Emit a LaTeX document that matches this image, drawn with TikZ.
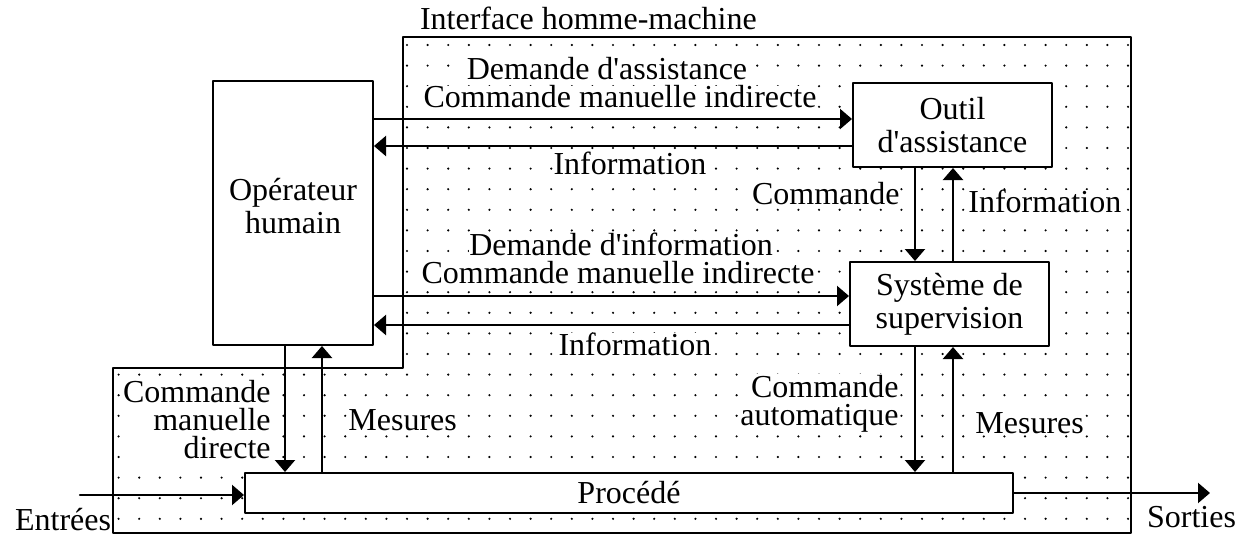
\documentclass[tikz,border=0pt]{standalone}
\usepackage{fontspec}
\setmainfont{Liberation Serif}
\usetikzlibrary{arrows.meta}
\begin{document}
\begin{tikzpicture}[line cap=round,line join=round,>={Triangle[width=10pt,length=6pt]},x=0.5pt,y=-0.5pt,
  font=\fontsize{16}{14}\selectfont,
  bloc/.style={draw,line width=1pt,fill=white,align=center,inner sep=0pt,font=\fontsize{16}{16.5}\selectfont},
  etiq/.style={fill=white,inner sep=0pt,text height=11pt,text depth=1pt,anchor=base},
  etiqbis/.style={fill=white,inner sep=0.5pt,align=right,anchor=base east},
  fleche/.style={->,line width=1.1pt}]
\useasboundingbox (0,0) rectangle (1242,535);
\begin{scope}
\clip (403,37) -- (1131,37) -- (1131,533) -- (113,533) -- (113,368) -- (403,368) -- cycle;
\foreach \i in {-15,...,35} \foreach \j in {0,...,24} \fill (407+20.6*\i,45+20.6*\j) circle (0.6pt);
\end{scope}
\draw [line width=1pt] (403,37) -- (1131,37) -- (1131,533) -- (113,533) -- (113,368) -- (403,368) -- cycle;
\node[anchor=base west] (ihm) at (413,30) {Interface homme-machine};
\node[bloc,minimum width=80pt,minimum height=132pt] (operateur) at (293,213) {Opérateur\\humain\\[-9pt]};
\node[bloc,minimum width=99.5pt,minimum height=42pt] (outil) at (952.5,125) {Outil\\d\textquotesingle assistance};
\node[bloc,minimum width=99.5pt,minimum height=42pt] (supervision) at (949.5,304) {Système de\\supervision};
\node[bloc,minimum width=384pt,minimum height=20pt] (procede) at (629,493) {Procédé};
\coordinate (rang1) at (0,119);
\coordinate (rang2) at (0,146);
\coordinate (rang3) at (0,296);
\coordinate (rang4) at (0,325);
\coordinate (col1) at (285,0);
\coordinate (col2) at (322,0);
\coordinate (col3) at (915,0);
\coordinate (col4) at (953,0);
\coordinate (entree) at (80,495);
\coordinate (sortie) at (1210,493);
\draw[fleche] (operateur.east |- rang1) -- (outil.west |- rang1);
\draw[fleche] (outil.west |- rang2) -- (operateur.east |- rang2);
\draw[fleche] (operateur.east |- rang3) -- (supervision.west |- rang3);
\draw[fleche] (supervision.west |- rang4) -- (operateur.east |- rang4);
\draw[fleche] (outil.south -| col3) -- (supervision.north -| col3);
\draw[fleche] (supervision.north -| col4) -- (outil.south -| col4);
\draw[fleche] (supervision.south -| col3) -- (procede.north -| col3);
\draw[fleche] (procede.north -| col4) -- (supervision.south -| col4);
\draw[fleche] (operateur.south -| col1) -- (procede.north -| col1);
\draw[fleche] (procede.north -| col2) -- (operateur.south -| col2);
\draw[fleche] (entree) -- (procede.west |- entree);
\draw[fleche] (procede.east |- sortie) -- (sortie);
\node[etiq] (dassist) at (607,80) {Demande d\textquotesingle assistance};
\node[etiq] (cmi1) at (620,108) {Commande manuelle indirecte};
\node[etiq] (info1) at (630,175) {Information};
\node[etiq,anchor=base east] (cmd1) at (900,205) {Commande};
\node[etiq,anchor=base west] (info2) at (968,212) {Information};
\node[etiq] (dinfo) at (621,255) {Demande d\textquotesingle information};
\node[etiq] (cmi2) at (618,283) {Commande manuelle indirecte};
\node[etiq] (info3) at (635,355) {Information};
\node[etiqbis] (cmd2) at (272,458) {Commande\\manuelle\\directe};
\node[etiq,anchor=base west] (mes1) at (348,430) {Mesures};
\node[etiqbis] (cmdauto) at (900,425) {Commande\\automatique};
\node[etiq,anchor=base west] (mes2) at (975,433) {Mesures};
\node[anchor=base west] (entrees) at (8,530) {Entrées};
\node[anchor=base west] (sorties) at (1140,527) {Sorties};
\end{tikzpicture}
\end{document}
